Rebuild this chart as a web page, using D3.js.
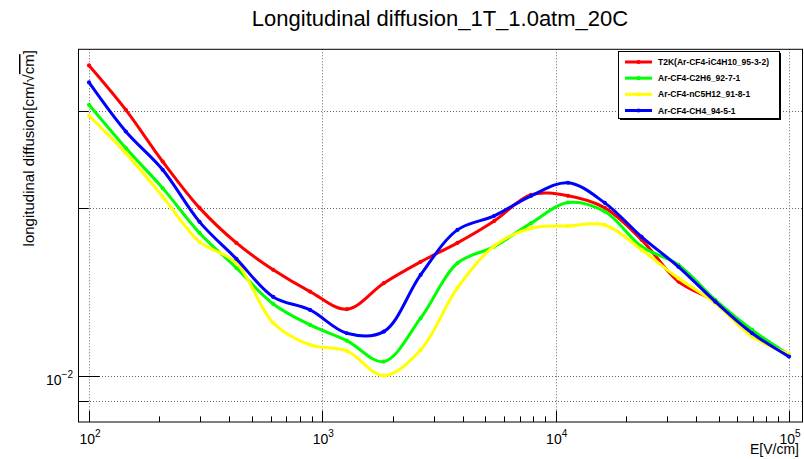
<!DOCTYPE html>
<html>
<head>
<meta charset="utf-8">
<script src="https://cdn.jsdelivr.net/npm/d3@7"></script>
<style>
  body { margin: 0; background: #fff; }
  svg { display: block; font-family: "Liberation Sans", Arial, Helvetica, sans-serif; }
</style>
</head>
<body>
<svg id="chart" width="804" height="459"></svg>
<script>
// Electric field grid, V/cm (20 log-spaced points, 1e2 .. 1e5)
const fieldValues = [100, 143.8, 206.9, 297.6, 428.1, 615.8, 885.9, 1274, 1833, 2637,
                     3793, 5456, 7848, 11288, 16238, 23357, 33598, 48329, 69519, 100000];

// Longitudinal diffusion coefficients, cm/sqrt(cm)
const t2kValues    = [0.03619, 0.03011, 0.02430, 0.02005, 0.01734, 0.01551, 0.01417, 0.01317, 0.01467, 0.01603,
                      0.01734, 0.01899, 0.02117, 0.02108, 0.02005, 0.01756, 0.01477, 0.01359, 0.01200, 0.01090];
const c2h6Values   = [0.03074, 0.02569, 0.02176, 0.01807, 0.01563, 0.01346, 0.01234, 0.01156, 0.01060, 0.01269,
                      0.01594, 0.01708, 0.01882, 0.02050, 0.01975, 0.01708, 0.01583, 0.01369, 0.01209, 0.01090];
const nc5h12Values = [0.02938, 0.02516, 0.02101, 0.01741, 0.01596, 0.01244, 0.01136, 0.01108, 0.01000, 0.01112,
                      0.01439, 0.01713, 0.01843, 0.01860, 0.01868, 0.01685, 0.01497, 0.01350, 0.01176, 0.01094];
const ch4Values    = [0.03373, 0.02752, 0.02348, 0.01892, 0.01623, 0.01386, 0.01313, 0.01192, 0.01200, 0.01518,
                      0.01830, 0.01940, 0.02108, 0.02225, 0.02047, 0.01778, 0.01570, 0.01359, 0.01192, 0.01082];

const seriesNames  = ["T2K(Ar-CF4-iC4H10_95-3-2)", "Ar-CF4-C2H6_92-7-1", "Ar-CF4-nC5H12_91-8-1", "Ar-CF4-CH4_94-5-1"];
const seriesValues = [t2kValues, c2h6Values, nc5h12Values, ch4Values];
const seriesColors = ["#ff0000", "#00ff00", "#ffff00", "#0000ff"];

// Axis ranges and ticks
const xRange = [89.7, 113700];
const yRange = [0.00825, 0.0387];
const xMajorTicks = [100, 1000, 10000, 100000];
const xMajorExponents = ["2", "3", "4", "5"];
const xMinorTicks = [200, 300, 400, 500, 600, 700, 800, 900,
                     2000, 3000, 4000, 5000, 6000, 7000, 8000, 9000,
                     20000, 30000, 40000, 50000, 60000, 70000, 80000, 90000];
const yGridTicks = [0.009, 0.01, 0.02, 0.03];
const yMinorTicks = [0.009, 0.02, 0.03];
const yMajorTicks = [0.01];
const yMajorExponents = ["\u22122"];

const titleText = "Longitudinal diffusion_1T_1.0atm_20C";
const xTitle = "E[V/cm]";

const svg = d3.select("#chart");
const frame = { left: 78, right: 802, top: 49.3, bottom: 422 };

const x = d3.scaleLog().domain(xRange).range([frame.left, frame.right]);
const y = d3.scaleLog().domain(yRange).range([frame.bottom, frame.top]);

// Grid (dotted)
const grid = svg.append("g").attr("stroke", "#666").attr("stroke-width", 1)
  .attr("stroke-dasharray", "1,2").attr("fill", "none");
xMajorTicks.forEach(v => {
  const px = Math.round(x(v)) + 0.5;
  grid.append("line").attr("x1", px).attr("x2", px).attr("y1", frame.top).attr("y2", frame.bottom);
});
yGridTicks.forEach(v => {
  const py = Math.round(y(v)) + 0.5;
  grid.append("line").attr("x1", frame.left).attr("x2", frame.right).attr("y1", py).attr("y2", py);
});

// Curves, smoothed through the sample points
const line = d3.line()
  .x((d, i) => x(fieldValues[i]))
  .y(d => y(d))
  .curve(d3.curveCatmullRom.alpha(0.5));

seriesValues.forEach((vals, s) => {
  const g = svg.append("g");
  g.append("path").attr("d", line(vals)).attr("fill", "none")
    .attr("stroke", seriesColors[s]).attr("stroke-width", 3).attr("stroke-linejoin", "round");
  g.selectAll("circle").data(vals).join("circle")
    .attr("cx", (d, i) => x(fieldValues[i])).attr("cy", d => y(d)).attr("r", 2.1)
    .attr("fill", seriesColors[s]);
});

// Frame
svg.append("rect").attr("x", frame.left + 0.5).attr("y", frame.top)
  .attr("width", frame.right - frame.left).attr("height", frame.bottom - frame.top)
  .attr("fill", "none").attr("stroke", "#000").attr("stroke-width", 1);

// X axis ticks
const ticks = svg.append("g").attr("stroke", "#000").attr("stroke-width", 1);
xMajorTicks.forEach(v => {
  const px = Math.round(x(v)) + 0.5;
  ticks.append("line").attr("x1", px).attr("x2", px).attr("y1", frame.bottom).attr("y2", frame.bottom - 11.2);
});
xMinorTicks.forEach(v => {
  const px = Math.round(x(v)) + 0.5;
  ticks.append("line").attr("x1", px).attr("x2", px).attr("y1", frame.bottom).attr("y2", frame.bottom - 5.6);
});
// Y axis ticks
yMajorTicks.forEach(v => {
  const py = Math.round(y(v)) + 0.5;
  ticks.append("line").attr("x1", frame.left).attr("x2", frame.left + 21.7).attr("y1", py).attr("y2", py);
});
yMinorTicks.forEach(v => {
  const py = Math.round(y(v)) + 0.5;
  ticks.append("line").attr("x1", frame.left).attr("x2", frame.left + 10.8).attr("y1", py).attr("y2", py);
});

// X tick labels: 10^n
xMajorTicks.forEach((v, i) => {
  const t = svg.append("text").attr("x", x(v) + 1).attr("y", 444)
    .attr("text-anchor", "middle").attr("font-size", 14).attr("fill", "#000");
  t.append("tspan").text("10");
  t.append("tspan").attr("font-size", 10).attr("dy", -7).text(xMajorExponents[i]);
});

// Y tick labels
yMajorTicks.forEach((v, i) => {
  const t = svg.append("text").attr("x", 73).attr("y", y(v) + 9)
    .attr("text-anchor", "end").attr("font-size", 14).attr("fill", "#000");
  t.append("tspan").text("10");
  t.append("tspan").attr("font-size", 10).attr("dy", -7).text(yMajorExponents[i]);
});

// Titles
svg.append("text").attr("x", 440).attr("y", 26).attr("text-anchor", "middle")
  .attr("font-size", 22).attr("fill", "#000").text(titleText);

svg.append("text").attr("x", 799).attr("y", 454).attr("text-anchor", "end")
  .attr("font-size", 14).attr("fill", "#000").text(xTitle);

const yt = svg.append("text").attr("transform", "translate(34,50) rotate(-90)")
  .attr("text-anchor", "end").attr("font-size", 15).attr("fill", "#000");
yt.append("tspan").text("longitudinal diffusion[cm/\u221A");
yt.append("tspan").attr("text-decoration", "overline").text("cm");
yt.append("tspan").text("]");

// Legend
const legend = { left: 618, top: 51, width: 161, height: 67 };
svg.append("rect").attr("x", legend.left + 2).attr("y", legend.top + 2)
  .attr("width", legend.width).attr("height", legend.height).attr("fill", "#000");
svg.append("rect").attr("x", legend.left + 0.5).attr("y", legend.top + 0.5)
  .attr("width", legend.width).attr("height", legend.height)
  .attr("fill", "#fff").attr("stroke", "#000").attr("stroke-width", 1);

const rowY = d3.scaleLinear().domain([0, 3]).range([62, 110.5]);
seriesNames.forEach((name, s) => {
  const cy = rowY(s);
  svg.append("line").attr("x1", 625).attr("x2", 652).attr("y1", cy).attr("y2", cy)
    .attr("stroke", seriesColors[s]).attr("stroke-width", 3);
  svg.append("circle").attr("cx", 638.5).attr("cy", cy).attr("r", 2.1).attr("fill", seriesColors[s]);
  svg.append("text").attr("x", 658).attr("y", cy + 3).attr("font-size", 8.5)
    .attr("font-weight", "bold").attr("fill", "#000").text(name);
});
</script>
</body>
</html>
